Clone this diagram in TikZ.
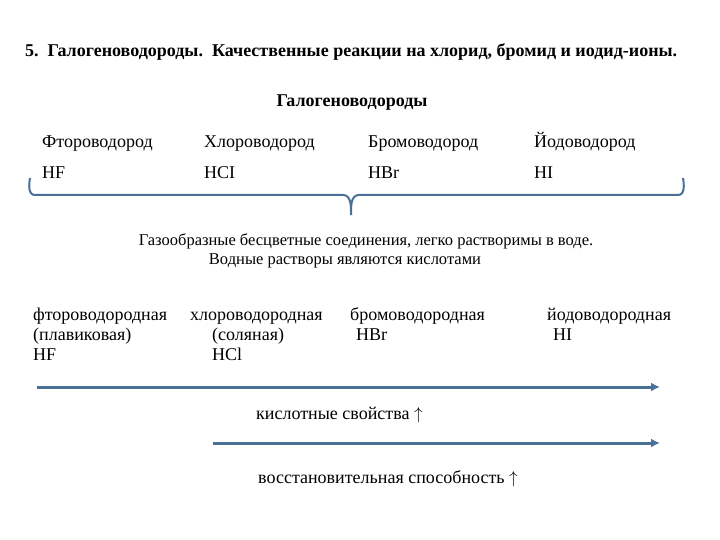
\documentclass[tikz,border=0pt]{standalone}
\usepackage{fontspec}
\setmainfont{Liberation Serif}[BoldFont={Liberation Serif Bold}]
\usetikzlibrary{arrows.meta}
\definecolor{lc}{RGB}{74,112,150}
\begin{document}
\begin{tikzpicture}[x=1pt,y=-1pt,
 txt/.style={inner sep=0pt,anchor=base west,font=\fontsize{18}{21}\selectfont},
 stxt/.style={inner sep=0pt,anchor=base,font=\fontsize{16.5}{20}\selectfont},
 btxt/.style={inner sep=0pt,anchor=base,font=\fontsize{18}{21}\selectfont\bfseries},
 arr/.style={draw=lc,line width=3pt,-{Latex[length=9pt,width=9pt]}},
 brc/.style={draw=lc,line width=2pt}]
\useasboundingbox (0,0) rectangle (720,540);
\node[btxt,anchor=base west] (t) at (25,57) {5.\ \ Галогеноводороды.\ \ Качественные реакции на хлорид, бромид и иодид-ионы.};
\node[btxt] (h) at (352,107) {Галогеноводороды};
\node[txt] (n1) at (42,148) {Фтороводород};
\node[txt] (n2) at (204,148) {Хлороводород};
\node[txt] (n3) at (368,148) {Бромоводород};
\node[txt] (n4) at (534,148) {Йодоводород};
\node[txt] (f1) at (42,179) {HF};
\node[txt] (f2) at (204,179) {HCI};
\node[txt] (f3) at (368,179) {HBr};
\node[txt] (f4) at (534,179) {HI};
\coordinate (bl) at (30,178);
\coordinate (br) at (683,178);
\coordinate (bm) at (351,215);
\draw[brc] (bl) to[out=-100,in=180] (35,195) -- (343,195) to[out=0,in=90] (bm) to[out=90,in=180] (359,195) -- (678,195) to[out=0,in=-80] (br);
\node[stxt] (g1) at (366,245) {Газообразные бесцветные соединения, легко растворимы в воде.};
\node[stxt] (g2) at (345,264) {Водные растворы являются кислотами};
\node[txt] (a1) at (33,320) {фтороводородная};
\node[txt] (a2) at (33,340) {(плавиковая)};
\node[txt] (a3) at (33,360) {HF};
\node[txt] (b1) at (190,320) {хлороводородная};
\node[txt] (b2) at (212,340) {(соляная)};
\node[txt] (b3) at (212,360) {HCl};
\node[txt] (c1) at (350,320) {бромоводородная};
\node[txt] (c2) at (356,340) {HBr};
\node[txt] (d1) at (547,320) {йодоводородная};
\node[txt] (d2) at (553,340) {HI};
\coordinate (s1) at (37,387);
\coordinate (e1) at (660,387);
\coordinate (s2) at (213,443);
\coordinate (e2) at (660,443);
\draw[arr] (s1) -- (e1);
\draw[arr] (s2) -- (e2);
\node[txt] (k1) at (256,419) {кислотные свойства $\uparrow$};
\node[txt] (k2) at (258,483) {восстановительная способность $\uparrow$};
\end{tikzpicture}
\end{document}
